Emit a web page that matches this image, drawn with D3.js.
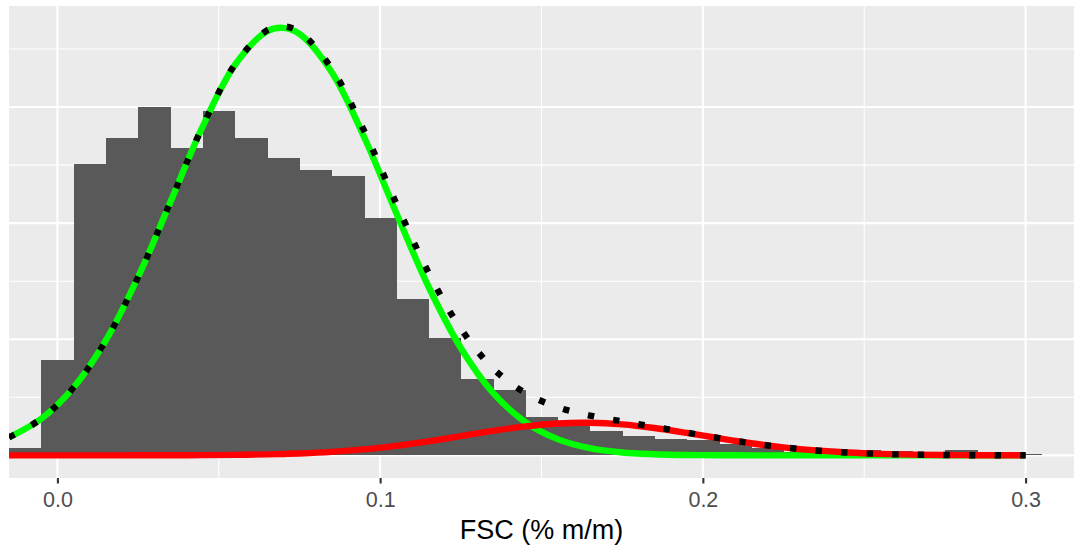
<!DOCTYPE html>
<html>
<head>
<meta charset="utf-8">
<script src="https://cdn.jsdelivr.net/npm/d3@7"></script>
<style>
  html, body { margin: 0; padding: 0; background: #ffffff; }
  svg { display: block; }
  text { font-family: "Liberation Sans", Arial, Helvetica, sans-serif; }
</style>
</head>
<body>
<svg id="chart" width="1074" height="550"></svg>
<script>
// Histogram of FSC values (bin centres, 0.01 wide) and counts per bin
const binMid = [-0.01, 0.00, 0.01, 0.02, 0.03, 0.04, 0.05, 0.06, 0.07, 0.08,
                0.09, 0.10, 0.11, 0.12, 0.13, 0.14, 0.15, 0.16, 0.17, 0.18,
                0.19, 0.20, 0.21, 0.22, 0.23, 0.24, 0.25, 0.26, 0.27, 0.28,
                0.29, 0.30];
const binCount = [6, 82, 251, 273, 300, 265, 297, 273, 256, 246,
                  241, 204, 135, 101, 66, 56, 33, 27, 21, 17,
                  14, 13, 10, 6, 3, 3, 5, 4, 2, 5,
                  2, 1];
const binWidth = 0.01;

// Fitted mixture components (in count units) sampled along x
const curveX = [-0.015, -0.005, 0.005, 0.015, 0.025, 0.035, 0.045, 0.055, 0.065, 0.070,
                0.075, 0.085, 0.095, 0.105, 0.115, 0.125, 0.135, 0.145, 0.155, 0.165,
                0.175, 0.185, 0.195, 0.205, 0.215, 0.225, 0.235, 0.245, 0.255, 0.265,
                0.275, 0.285, 0.295, 0.300];
const component1 = [15.5, 31.5, 58.4, 99.0, 153.6, 218.1, 283.1, 336.2, 365.3, 368.2,
                    363.0, 330.0, 274.4, 208.7, 145.2, 92.5, 53.8, 28.7, 14.0, 6.2,
                    2.5, 1.0, 0.3, 0.1, 0, 0, 0, 0, 0, 0,
                    0, 0, 0, 0];
const component2 = [0, 0, 0, 0, 0.03, 0.07, 0.17, 0.40, 0.84, 1.19,
                    1.66, 3.04, 5.19, 8.22, 12.11, 16.58, 21.11, 24.96, 27.45, 28.06,
                    26.66, 23.54, 19.33, 14.75, 10.46, 6.90, 4.24, 2.42, 1.28, 0.63,
                    0.29, 0.12, 0.05, 0.03];
const mixtureTotal = [15.5, 31.5, 58.4, 99.0, 153.6, 218.2, 283.3, 336.6, 366.1, 369.4,
                      364.7, 333.0, 279.6, 216.9, 157.3, 109.1, 74.9, 53.7, 41.5, 34.3,
                      29.2, 24.5, 19.6, 14.9, 10.5, 6.9, 4.2, 2.4, 1.3, 0.6,
                      0.3, 0.1, 0.05, 0.03];

const xTicks = [0.0, 0.1, 0.2, 0.3];
const xMinor = [0.05, 0.15, 0.25];
const yMajor = [0, 100, 200, 300];
const yMinor = [50, 150, 250, 350];
const xTitle = "FSC (% m/m)";

const panel = { left: 9, top: 6, right: 1074, bottom: 478 };

const svg = d3.select("#chart");

const x = d3.scaleLinear().domain([-0.015, 0.315]).range([panel.left, panel.right]);
const y = d3.scaleLinear().domain([-19.5, 387]).range([panel.bottom, panel.top]);

// panel background
svg.append("rect")
  .attr("x", panel.left).attr("y", panel.top)
  .attr("width", panel.right - panel.left).attr("height", panel.bottom - panel.top)
  .attr("fill", "#EBEBEB");

svg.append("clipPath").attr("id", "panelClip")
  .append("rect")
  .attr("x", panel.left).attr("y", panel.top)
  .attr("width", panel.right - panel.left).attr("height", panel.bottom - panel.top);

const grid = svg.append("g");
// minor grid
grid.selectAll("line.ymin").data(yMinor).join("line")
  .attr("x1", panel.left).attr("x2", panel.right)
  .attr("y1", d => y(d)).attr("y2", d => y(d))
  .attr("stroke", "#ffffff").attr("stroke-width", 1.1);
grid.selectAll("line.xmin").data(xMinor).join("line")
  .attr("y1", panel.top).attr("y2", panel.bottom)
  .attr("x1", d => x(d)).attr("x2", d => x(d))
  .attr("stroke", "#ffffff").attr("stroke-width", 1.1);
// major grid
grid.selectAll("line.ymaj").data(yMajor).join("line")
  .attr("x1", panel.left).attr("x2", panel.right)
  .attr("y1", d => y(d)).attr("y2", d => y(d))
  .attr("stroke", "#ffffff").attr("stroke-width", 2.1);
grid.selectAll("line.xmaj").data(xTicks).join("line")
  .attr("y1", panel.top).attr("y2", panel.bottom)
  .attr("x1", d => x(d)).attr("x2", d => x(d))
  .attr("stroke", "#ffffff").attr("stroke-width", 2.1);

const plot = svg.append("g").attr("clip-path", "url(#panelClip)");

// histogram bars
const bins = binMid.map((m, i) => ({ x0: m - binWidth / 2, x1: m + binWidth / 2, n: binCount[i] }));
plot.append("g").attr("shape-rendering", "crispEdges")
  .selectAll("rect.bar").data(bins).join("rect")
  .attr("class", "bar")
  .attr("x", d => x(d.x0))
  .attr("width", d => x(d.x1) - x(d.x0) + 0.5)
  .attr("y", d => y(d.n))
  .attr("height", d => y(0) - y(d.n))
  .attr("fill", "#595959");

const lw = 6.4;
const line = vals => d3.line()
  .x((d, i) => x(curveX[i]))
  .y(d => y(d))
  .curve(d3.curveCatmullRom)(vals);

plot.append("path").attr("d", line(component1))
  .attr("fill", "none").attr("stroke", "#00FF00").attr("stroke-width", lw)
  .attr("stroke-linejoin", "round");
plot.append("path").attr("d", line(component2))
  .attr("fill", "none").attr("stroke", "#FF0000").attr("stroke-width", lw)
  .attr("stroke-linejoin", "round");
plot.append("path").attr("d", line(mixtureTotal))
  .attr("fill", "none").attr("stroke", "#000000").attr("stroke-width", lw)
  .attr("stroke-dasharray", `${lw},${lw * 3}`)
  .attr("stroke-linecap", "butt");

// x axis
const xAxis = d3.axisBottom(x).tickValues(xTicks).tickFormat(d3.format(".1f"))
  .tickSize(5.5).tickPadding(8);
const gx = svg.append("g").attr("transform", `translate(0,${panel.bottom})`).call(xAxis);
gx.select(".domain").remove();
gx.selectAll(".tick line").attr("stroke", "#333333").attr("stroke-width", 2.1);
gx.selectAll(".tick text")
  .attr("fill", "#4D4D4D")
  .attr("font-size", "21.5px")
  .attr("font-family", "'Liberation Sans', Arial, Helvetica, sans-serif")
  .attr("dy", null)
  .attr("y", 28.7);

svg.append("text")
  .attr("x", (panel.left + panel.right) / 2)
  .attr("y", 539.3)
  .attr("text-anchor", "middle")
  .attr("font-size", "27px")
  .attr("fill", "#000000")
  .text(xTitle);
</script>
</body>
</html>
